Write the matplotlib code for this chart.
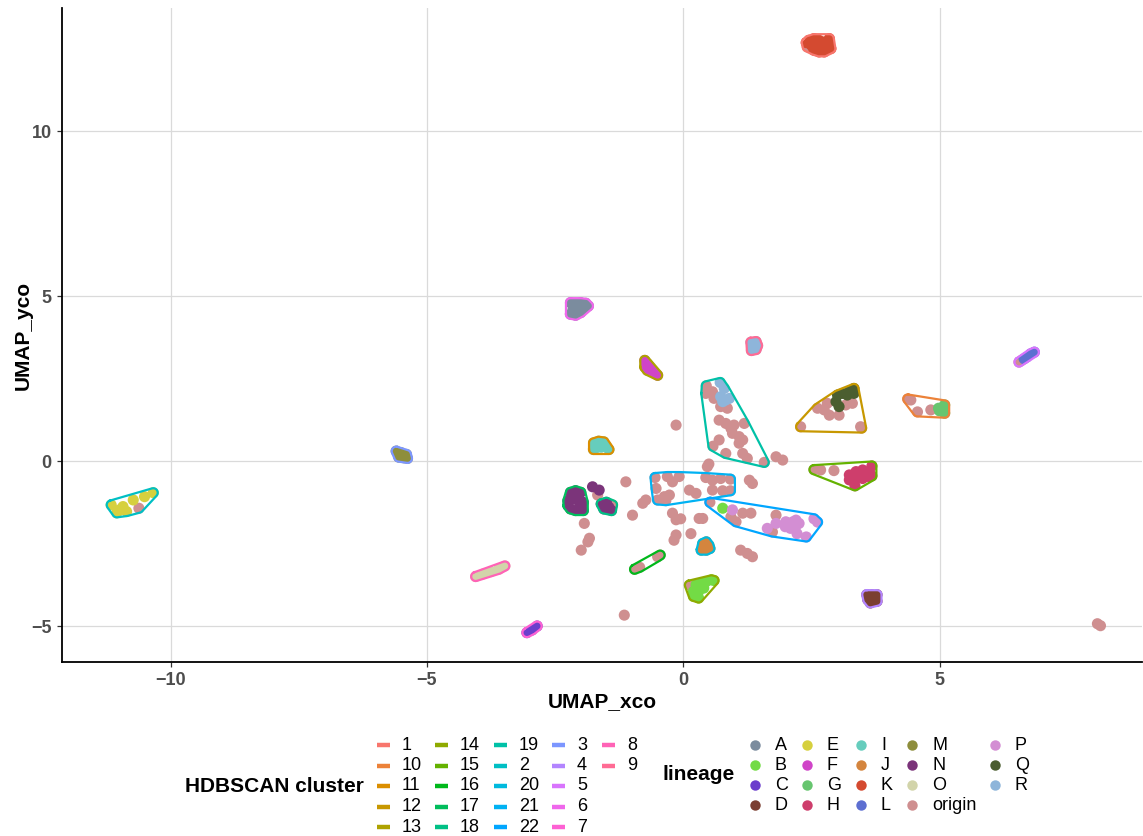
import numpy as np
import matplotlib.pyplot as plt
from matplotlib.lines import Line2D

plt.rcParams['font.family'] = ['Liberation Sans', 'DejaVu Sans']

W, H = 1143, 836

# factor levels (R sorts the cluster ids as strings)
cluster_levels = sorted(str(i) for i in range(1, 23))
lineage_levels = list('ABCDEFGHIJKLMNO') + ['origin', 'P', 'Q', 'R']
lineage_colors = ['#7B8C9E', '#73DB45', '#6B3ECC', '#7B3F32', '#D6D03E',
                  '#D044C8', '#67C56F', '#CE3E6C', '#66CDBD', '#D4853E',
                  '#D44A30', '#5D6FD1', '#8E8E3C', '#7B347A', '#D2D4AA',
                  '#CF8F90', '#D38ED3', '#4B5E30', '#8EB5DA']

# (cluster, lineage, x, y) ; cluster None = noise point
groups = [
    ('1', 'K', [2.45, 2.55, 2.65, 2.75, 2.85, 2.5, 2.6, 2.7, 2.8, 2.55, 2.65, 2.75, 2.4, 2.85, 2.88],
               [12.75, 12.8, 12.75, 12.7, 12.65, 12.6, 12.55, 12.5, 12.55, 12.45, 12.4, 12.4, 12.68, 12.8, 12.5]),
    ('1', 'origin', [2.42], [12.55]),
    ('6', 'A', [-2.2, -2.1, -2.0, -1.9, -2.15, -2.05, -1.95, -2.2, -2.1, -2.0, -1.85],
               [4.8, 4.75, 4.8, 4.78, 4.6, 4.65, 4.62, 4.45, 4.42, 4.5, 4.7]),
    ('9', 'R', [1.32, 1.42, 1.35, 1.45, 1.33, 1.42], [3.6, 3.62, 3.45, 3.5, 3.35, 3.38]),
    ('13', 'F', [-0.75, -0.7, -0.65, -0.75, -0.6, -0.55, -0.5, -0.7],
                [3.05, 2.95, 2.85, 2.85, 2.75, 2.65, 2.6, 2.75]),
    ('5', 'L', [6.7, 6.78, 6.85, 6.65], [3.15, 3.25, 3.3, 3.1]),
    ('5', 'origin', [6.55, 6.6], [3.0, 3.05]),
    ('19', 'origin', [0.45, 0.44, 0.57, 0.60, 0.73, 0.86, 0.70, 0.83, 0.93, 0.99, 0.96, 1.09, 1.16,
                      1.09, 0.70, 0.58, 0.83, 1.16, 1.25, 1.58, 1.19],
                     [2.28, 2.05, 2.10, 1.90, 1.65, 1.60, 1.24, 1.14, 0.99, 1.09, 0.84, 0.74, 0.64,
                      0.54, 0.64, 0.45, 0.23, 0.23, 0.08, -0.04, 1.14]),
    ('19', 'R', [0.72, 0.80, 0.73, 0.83, 0.90, 0.77], [2.38, 2.2, 1.95, 1.85, 1.90, 1.80]),
    ('12', 'origin', [2.29, 2.62, 2.81, 2.85, 3.04, 3.17, 3.30, 3.46, 2.75, 3.48],
                     [1.04, 1.6, 1.75, 1.39, 1.39, 1.70, 1.75, 1.04, 1.55, 1.0]),
    ('12', 'Q', [2.98, 3.01, 3.11, 3.24, 3.33, 3.2, 3.04, 3.33],
                [1.80, 2.0, 2.05, 2.10, 2.05, 2.0, 1.65, 2.2]),
    ('10', 'origin', [4.38, 4.44, 4.57, 4.83], [1.88, 1.85, 1.49, 1.55]),
    ('10', 'G', [4.98, 5.05, 5.0, 5.06, 5.1, 5.1], [1.6, 1.62, 1.52, 1.55, 1.7, 1.45]),
    ('15', 'origin', [2.55, 2.68, 2.94], [-0.26, -0.27, -0.29]),
    ('15', 'H', [3.24, 3.37, 3.5, 3.63, 3.33, 3.5, 3.63, 3.24, 3.43, 3.68, 3.68, 3.35],
                [-0.42, -0.32, -0.27, -0.32, -0.63, -0.53, -0.48, -0.57, -0.42, -0.15, -0.45, -0.75]),
    ('11', 'I', [-1.75, -1.65, -1.55, -1.7, -1.6, -1.5, -1.45, -1.75],
                [0.55, 0.6, 0.58, 0.4, 0.42, 0.45, 0.35, 0.35]),
    ('3', 'M', [-5.6, -5.5, -5.4, -5.55, -5.45, -5.38], [0.3, 0.25, 0.2, 0.12, 0.1, 0.08]),
    ('2', 'E', [-11.16, -11.0, -10.93, -10.73, -10.51, -10.34, -11.05, -10.86],
               [-1.33, -1.48, -1.38, -1.18, -1.08, -0.96, -1.57, -1.53]),
    ('2', 'origin', [-10.62], [-1.43]),
    ('17', 'N', [-2.2, -2.1, -2.0, -2.25, -2.15, -2.05, -1.95, -2.2, -2.1, -2.0, -1.95, -2.25],
                [-0.95, -0.9, -0.95, -1.2, -1.15, -1.2, -1.25, -1.45, -1.5, -1.4, -1.5, -1.35]),
    ('18', 'N', [-1.6, -1.5, -1.45, -1.55, -1.4], [-1.3, -1.25, -1.4, -1.45, -1.5]),
    ('18', 'origin', [-1.38], [-1.33]),
    ('21', 'origin', [-0.55, -0.31, -0.21, -0.08, 0.12, 0.25, 0.44, 0.57, 0.73, 0.92, 0.57, 0.77, 0.92,
                      -0.37, -0.27, -0.5, -0.53, -0.34],
                     [-0.5, -0.47, -0.63, -0.47, -0.88, -0.98, -0.5, -0.58, -0.53, -0.55, -0.88, -0.9, -0.9,
                      -1.08, -1.03, -1.18, -0.83, -1.2]),
    ('22', 'origin', [0.52, 1.16, 1.32, 1.81, 0.93, 1.03, 1.74],
                     [-1.25, -1.58, -1.58, -1.64, -1.69, -1.84, -2.15]),
    ('22', 'B', [0.77], [-1.43]),
    ('22', 'P', [0.96, 1.64, 1.81, 2.0, 2.07, 2.14, 2.2, 2.26, 2.18, 2.22, 2.09, 1.99, 2.55, 2.62, 2.4],
                [-1.48, -2.04, -1.89, -1.84, -1.94, -1.84, -1.79, -1.89, -2.04, -2.2, -2.04, -1.99, -1.75, -1.85, -2.3]),
    ('20', 'J', [0.38, 0.45, 0.5, 0.35, 0.45, 0.52], [-2.5, -2.45, -2.55, -2.7, -2.7, -2.65]),
    ('14', 'B', [0.25, 0.35, 0.45, 0.55, 0.2, 0.3, 0.4, 0.2, 0.3, 0.6],
                [-3.75, -3.7, -3.65, -3.6, -3.95, -3.95, -3.85, -4.1, -4.15, -3.62]),
    ('14', 'origin', [0.12], [-3.76]),
    ('16', 'origin', [-0.95, -0.85, -0.5, -0.45], [-3.28, -3.22, -2.9, -2.85]),
    ('8', 'O', [-4.05, -3.9, -3.75, -3.6, -3.48], [-3.5, -3.42, -3.35, -3.28, -3.18]),
    ('7', 'C', [-3.05, -2.95, -2.85], [-5.2, -5.12, -5.0]),
    ('4', 'D', [3.58, 3.68, 3.78, 3.6, 3.7, 3.78, 3.65], [-4.05, -4.05, -4.05, -4.2, -4.2, -4.25, -4.3]),
    (None, 'N', [-1.77, -1.64], [-0.78, -0.88]),
    (None, 'origin', [8.08, 8.14, -0.14, -1.12, -0.73, -0.79, -0.99, -1.93, -1.83, -1.86, -1.99, -0.21,
                      -0.14, -0.05, -0.14, -0.18, 0.15, 0.31, 0.38, 0.47, 0.5, 1.29, 1.35, 1.12, 1.25,
                      1.35, -1.15, 1.81, 1.94, -1.67],
                     [-4.93, -4.99, 1.09, -0.63, -1.18, -1.28, -1.64, -1.89, -2.34, -2.45, -2.7, -1.58,
                      -1.78, -1.75, -2.24, -2.4, -2.2, -1.74, -1.74, -0.17, -0.09, -0.58, -0.68, -2.7, -2.8,
                      -2.9, -4.67, 0.13, 0.03, -1.03]),
]


def hue_pal(n, c=100.0, l=65.0):
    # ggplot2 default discrete palette, polar LUV -> sRGB
    hues = np.linspace(15, 375, n + 1)[:-1]
    un, vn = 0.1978398, 0.4683363
    Y = ((l + 16) / 116) ** 3
    out = []
    for h in hues:
        U = c * np.cos(np.radians(h))
        V = c * np.sin(np.radians(h))
        u = U / (13 * l) + un
        v = V / (13 * l) + vn
        X = 9.0 * Y * u / (4 * v)
        Z = -X / 3 - 5 * Y + 3 * Y / v
        rgb = np.array([3.240479 * X - 1.537150 * Y - 0.498535 * Z,
                        -0.969256 * X + 1.875992 * Y + 0.041556 * Z,
                        0.055648 * X - 0.204043 * Y + 1.057311 * Z])
        rgb = np.where(rgb <= 0.0031308, 12.92 * rgb, 1.055 * np.abs(rgb) ** (1 / 2.4) - 0.055)
        out.append(tuple(np.clip(rgb, 0, 1)))
    return out


def convex_hull(pts):
    pts = sorted(set(map(tuple, pts)))
    if len(pts) <= 2:
        return np.array(pts)

    def cross(o, a, b):
        return (a[0] - o[0]) * (b[1] - o[1]) - (a[1] - o[1]) * (b[0] - o[0])
    lower, upper = [], []
    for p in pts:
        while len(lower) >= 2 and cross(lower[-2], lower[-1], p) <= 0:
            lower.pop()
        lower.append(p)
    for p in reversed(pts):
        while len(upper) >= 2 and cross(upper[-2], upper[-1], p) <= 0:
            upper.pop()
        upper.append(p)
    return np.array(lower[:-1] + upper[:-1])


def hull_outline(ax, xs, ys, r_px=4.5):
    # convex hull in pixel space, grown by r_px with round corners
    pts = ax.transData.transform(np.column_stack([xs, ys]))
    hull = convex_hull(pts)
    n = len(hull)
    ring = []
    for i in range(n):
        p = hull[i]
        d1 = p - hull[i - 1]
        d2 = hull[(i + 1) % n] - p
        a1 = np.arctan2(-d1[0], d1[1])
        a2 = np.arctan2(-d2[0], d2[1])
        if a2 < a1:
            a2 += 2 * np.pi
        for a in np.linspace(a1, a2, 10):
            ring.append(p + r_px * np.array([np.cos(a), np.sin(a)]))
    ring.append(ring[0])
    return ax.transData.inverted().transform(np.array(ring))


cluster_colors = dict(zip(cluster_levels, hue_pal(len(cluster_levels))))
lin_col = dict(zip(lineage_levels, lineage_colors))

fig = plt.figure(figsize=(W / 100, H / 100), dpi=100)
ax = fig.add_axes([62 / W, 1 - 662 / H, (1142 - 62) / W, (662 - 8) / H])
ax.set_xlim(-12.12, 8.95)
ax.set_ylim(-6.09, 13.73)
ax.set_xticks([-10, -5, 0, 5])
ax.set_yticks([-5, 0, 5, 10])
ax.grid(True, color='#DADADA', lw=0.9, zorder=0)
ax.set_axisbelow(True)
for s in ['top', 'right']:
    ax.spines[s].set_visible(False)
for s in ['left', 'bottom']:
    ax.spines[s].set_linewidth(1.3)
ax.tick_params(length=3.5, width=0.9, color='#333333', labelsize=13,
               labelcolor='#4D4D4D', pad=4)
plt.setp(ax.get_xticklabels() + ax.get_yticklabels(), fontweight='bold')
ax.set_xlabel('UMAP_xco', fontsize=15, fontweight='bold', labelpad=2)
ax.set_ylabel('UMAP_yco', fontsize=15, fontweight='bold', labelpad=-1)

# points: origin underneath, coloured lineages on top
for cl, lin, xs, ys in sorted(groups, key=lambda g: g[1] != 'origin'):
    ax.scatter(xs, ys, s=64, color=lin_col[lin], edgecolors='none', zorder=3)

# cluster hulls
for cl in cluster_levels:
    xs = [x for g in groups if g[0] == cl for x in g[2]]
    ys = [y for g in groups if g[0] == cl for y in g[3]]
    if not xs:
        continue
    ring = hull_outline(ax, xs, ys)
    ax.plot(ring[:, 0], ring[:, 1], color=cluster_colors[cl], lw=1.6,
            solid_joinstyle='round', zorder=4)


def fx(px):
    return px / W


def fy(py):
    return 1 - py / H


# legend: HDBSCAN cluster (5 rows, filled by column)
fig.text(fx(185), fy(787), 'HDBSCAN cluster', fontsize=15, fontweight='bold',
         va='center', ha='left')
key_x = [377, 435, 494, 552, 602]
for i, cl in enumerate(cluster_levels):
    col, row = divmod(i, 5)
    y = fy(745 + 20.5 * row)
    fig.add_artist(Line2D([fx(key_x[col]), fx(key_x[col] + 13)], [y, y],
                          color=cluster_colors[cl], lw=3.2, solid_capstyle='butt'))
    fig.text(fx(key_x[col] + 25), y, cl, fontsize=13, va='center', ha='left')

# legend: lineage (4 rows, filled by column)
fig.text(fx(662), fy(775), 'lineage', fontsize=15, fontweight='bold',
         va='center', ha='left')
dot_x = [755, 807, 861, 912, 995]
for i, lin in enumerate(lineage_levels):
    col, row = divmod(i, 4)
    y = fy(745 + 20 * row)
    fig.add_artist(Line2D([fx(dot_x[col])], [y], marker='o', ms=7.5,
                          color=lin_col[lin], markeredgewidth=0, linestyle='none'))
    fig.text(fx(dot_x[col] + 20), y, lin, fontsize=13, va='center', ha='left')

fig.savefig('out.png', dpi=100, facecolor='white')
